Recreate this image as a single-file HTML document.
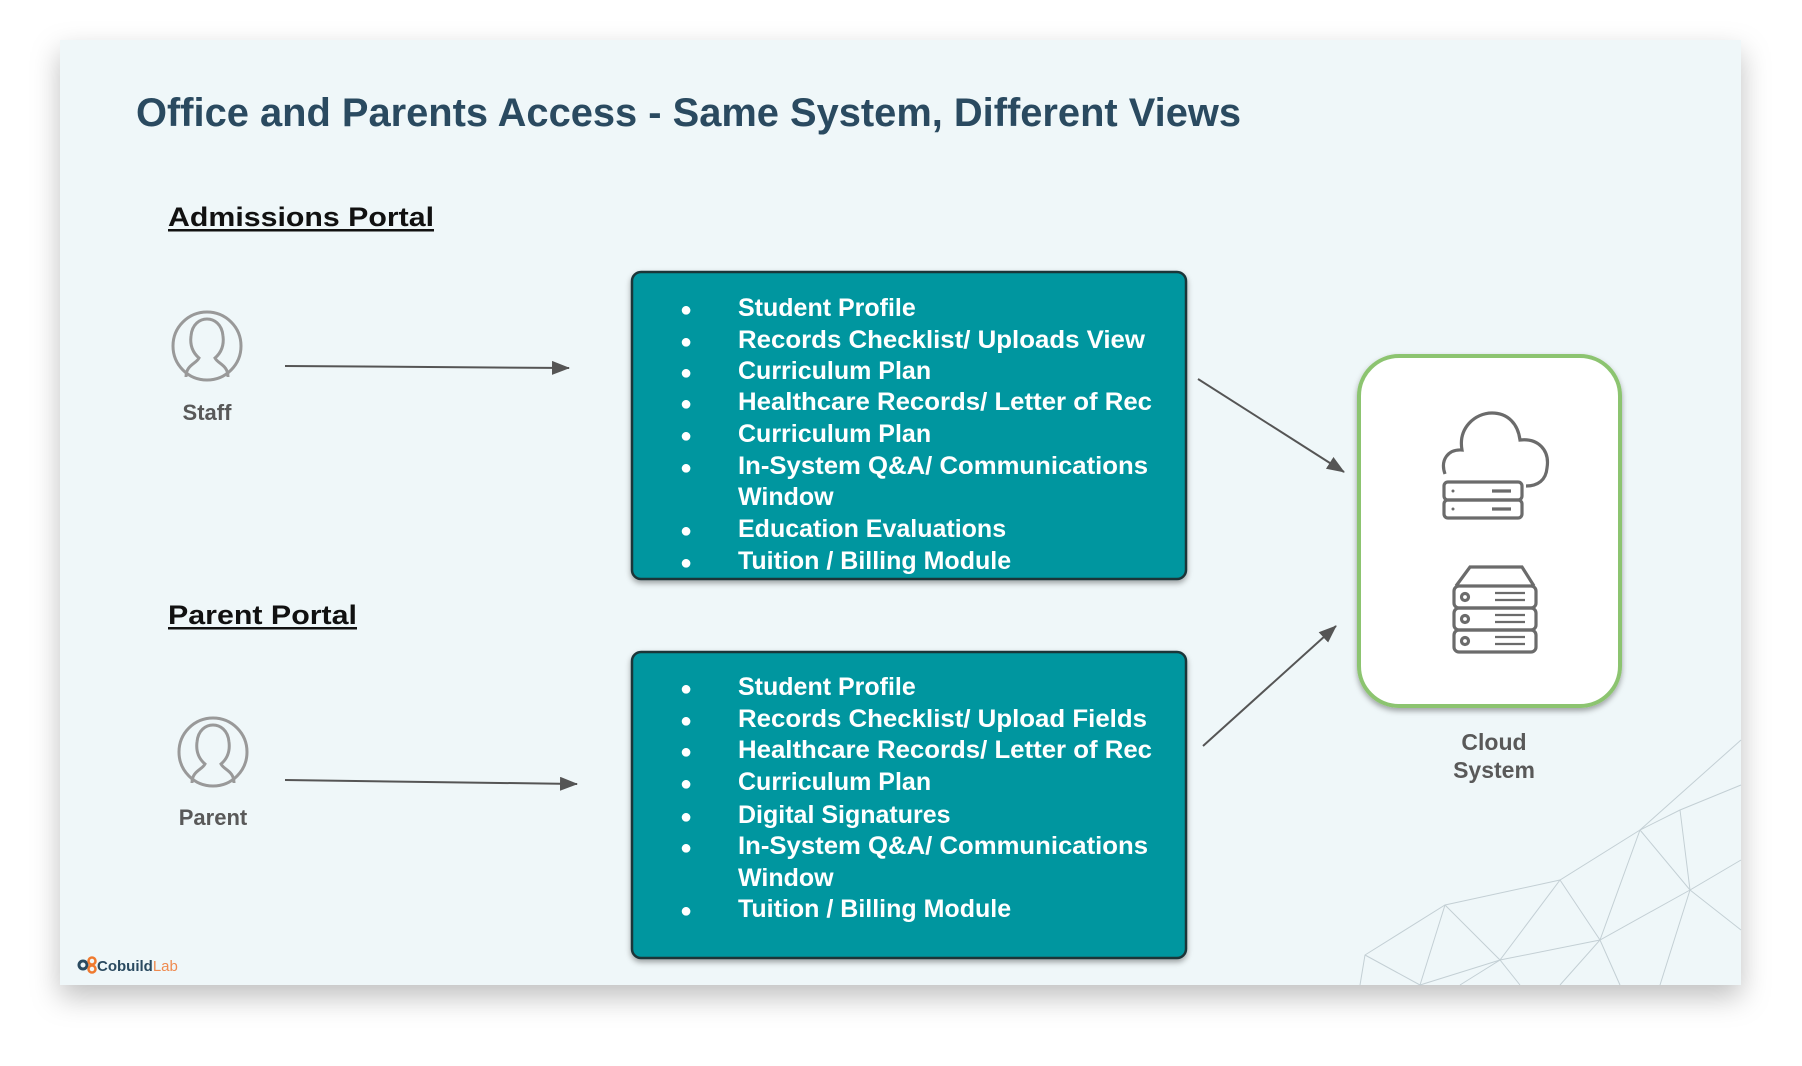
<!DOCTYPE html>
<html><head><meta charset="utf-8"><style>
html,body{margin:0;padding:0;background:#fff;width:1802px;height:1066px;overflow:hidden}
svg{display:block}
</style></head><body>
<svg width="1802" height="1066" xmlns="http://www.w3.org/2000/svg" font-family="Liberation Sans, sans-serif">
<defs>
<filter id="sh" x="-10%" y="-10%" width="120%" height="130%"><feDropShadow dx="0" dy="12" stdDeviation="14" flood-color="#000" flood-opacity="0.25"/></filter>
<filter id="sh2" x="-10%" y="-10%" width="120%" height="120%"><feDropShadow dx="0" dy="3" stdDeviation="3" flood-color="#000" flood-opacity="0.35"/></filter>
<marker id="ar" markerWidth="10" markerHeight="10" refX="9" refY="5" orient="auto" markerUnits="userSpaceOnUse"><path d="M0,0 L10,5 L0,10 Z" fill="#555"/></marker>
<marker id="ar2" markerWidth="18" markerHeight="14" refX="17" refY="7" orient="auto" markerUnits="userSpaceOnUse"><path d="M0,0 L18,7 L0,14 Z" fill="#555"/></marker>
</defs>
<rect x="60" y="40" width="1681" height="945" fill="#eff7f9" filter="url(#sh)"/>
<!-- mesh -->
<g stroke="#b9c6cc" stroke-width="1" fill="none" opacity="0.8">
<path d="M1741,740 L1640,830 L1560,880 L1445,905 L1365,955 L1360,985"/>
<path d="M1741,785 L1680,810 L1640,830 L1600,940 L1560,985"/>
<path d="M1680,810 L1690,890 L1660,985 M1560,880 L1600,940 L1620,985"/>
<path d="M1445,905 L1500,960 L1520,985 M1560,880 L1500,960 L1460,985"/>
<path d="M1445,905 L1420,985 M1365,955 L1420,985 M1690,890 L1741,930 M1640,830 L1690,890"/>
<path d="M1741,860 L1690,890 L1600,940 L1500,960 L1420,985"/>
</g>
<text x="136" y="126" font-size="40" font-weight="bold" fill="#2a4a60" textLength="1105" lengthAdjust="spacingAndGlyphs">Office and Parents Access - Same System, Different Views</text>
<text x="168" y="226" font-size="27" font-weight="bold" fill="#111" textLength="266" lengthAdjust="spacingAndGlyphs">Admissions Portal</text>
<rect x="168" y="229" width="266" height="2.5" fill="#111"/>
<text x="168" y="624" font-size="27" font-weight="bold" fill="#111" textLength="189" lengthAdjust="spacingAndGlyphs">Parent Portal</text>
<rect x="168" y="627" width="189" height="2.5" fill="#111"/>
<!-- person icons -->
<g fill="none" stroke="#999" stroke-width="3">
<circle cx="207" cy="346" r="34"/>
<path d="M186,377 C186,365 196,364 199,358 C192,352 190,344 191,336 C192,324 200,319 207,319 C214,319 222,324 223,336 C224,344 222,352 215,358 C218,364 228,365 228,377"/>
<circle cx="213" cy="752" r="34"/>
<path d="M192,783 C192,771 202,770 205,764 C198,758 196,750 197,742 C198,730 206,725 213,725 C220,725 228,730 229,742 C230,750 228,758 221,764 C224,770 234,771 234,783"/>
</g>
<text x="207" y="420" font-size="22" font-weight="bold" fill="#595959" text-anchor="middle">Staff</text>
<text x="213" y="825" font-size="22" font-weight="bold" fill="#595959" text-anchor="middle">Parent</text>
<!-- arrows -->
<g stroke="#555" stroke-width="2">
<line x1="285" y1="366" x2="569" y2="368" marker-end="url(#ar2)"/>
<line x1="285" y1="780" x2="577" y2="784" marker-end="url(#ar2)"/>
<line x1="1198" y1="379" x2="1344" y2="472" marker-end="url(#ar2)"/>
<line x1="1203" y1="746" x2="1336" y2="626" marker-end="url(#ar2)"/>
</g>
<!-- boxes -->
<rect x="632" y="272" width="554" height="307" rx="9" fill="#04969f" stroke="#1b3439" stroke-width="2.5" filter="url(#sh2)"/>
<rect x="632" y="652" width="554" height="306" rx="9" fill="#04969f" stroke="#1b3439" stroke-width="2.5" filter="url(#sh2)"/>
<g font-size="25" font-weight="bold" fill="#fff">
<g font-size="20"><text x="680" y="316">●</text><text x="680" y="348">●</text><text x="680" y="379">●</text><text x="680" y="410">●</text><text x="680" y="442">●</text><text x="680" y="474">●</text><text x="680" y="537">●</text><text x="680" y="569">●</text>
<text x="680" y="695">●</text><text x="680" y="727">●</text><text x="680" y="758">●</text><text x="680" y="790">●</text><text x="680" y="823">●</text><text x="680" y="854">●</text><text x="680" y="917">●</text></g>
<text x="738" y="316">Student Profile</text>
<text x="738" y="348" textLength="407" lengthAdjust="spacingAndGlyphs">Records Checklist/ Uploads View</text>
<text x="738" y="379">Curriculum Plan</text>
<text x="738" y="410" textLength="414" lengthAdjust="spacingAndGlyphs">Healthcare Records/ Letter of Rec</text>
<text x="738" y="442">Curriculum Plan</text>
<text x="738" y="474" textLength="410" lengthAdjust="spacingAndGlyphs">In-System Q&amp;A/ Communications</text>
<text x="738" y="505">Window</text>
<text x="738" y="537">Education Evaluations</text>
<text x="738" y="569">Tuition / Billing Module</text>
<text x="738" y="695">Student Profile</text>
<text x="738" y="727" textLength="409" lengthAdjust="spacingAndGlyphs">Records Checklist/ Upload Fields</text>
<text x="738" y="758" textLength="414" lengthAdjust="spacingAndGlyphs">Healthcare Records/ Letter of Rec</text>
<text x="738" y="790">Curriculum Plan</text>
<text x="738" y="823">Digital Signatures</text>
<text x="738" y="854" textLength="410" lengthAdjust="spacingAndGlyphs">In-System Q&amp;A/ Communications</text>
<text x="738" y="886">Window</text>
<text x="738" y="917">Tuition / Billing Module</text>
</g>
<!-- cloud system -->
<rect x="1359" y="356" width="261" height="350" rx="40" fill="#fff" stroke="#8cc46f" stroke-width="4" filter="url(#sh2)"/>
<g fill="none" stroke="#6b6b6b" stroke-width="3.2">
<path d="M1445,474 C1440,460 1448,449 1462,450 C1458,428 1475,413 1492,413 C1508,413 1518,424 1520,440 C1538,438 1550,450 1547,468 C1546,480 1538,486 1526,486"/>
<rect x="1444" y="482" width="78" height="18" rx="4"/>
<rect x="1444" y="500" width="78" height="18" rx="4"/>
<line x1="1492" y1="491" x2="1511" y2="491"/><line x1="1492" y1="509" x2="1511" y2="509"/>
<path d="M1456,586 L1470,567 L1522,567 L1534,586"/>
<rect x="1454" y="586" width="82" height="22" rx="5"/>
<rect x="1454" y="608" width="82" height="22" rx="5"/>
<rect x="1454" y="630" width="82" height="22" rx="5"/>
<circle cx="1465" cy="597" r="3.5"/><circle cx="1465" cy="619" r="3.5"/><circle cx="1465" cy="641" r="3.5"/>
<g stroke-width="2.2"><line x1="1495" y1="593" x2="1525" y2="593"/><line x1="1495" y1="600" x2="1525" y2="600"/><line x1="1495" y1="615" x2="1525" y2="615"/><line x1="1495" y1="622" x2="1525" y2="622"/><line x1="1495" y1="637" x2="1525" y2="637"/><line x1="1495" y1="644" x2="1525" y2="644"/></g>
</g>
<circle cx="1453" cy="491" r="1.5" fill="#6b6b6b"/><circle cx="1453" cy="509" r="1.5" fill="#6b6b6b"/>
<text x="1494" y="750" font-size="23" font-weight="bold" fill="#595959" text-anchor="middle">Cloud</text>
<text x="1494" y="778" font-size="23" font-weight="bold" fill="#595959" text-anchor="middle">System</text>
<!-- logo -->
<circle cx="83" cy="965" r="4" fill="none" stroke="#2a4a60" stroke-width="3"/>
<circle cx="92" cy="961" r="3.5" fill="none" stroke="#ef7a2f" stroke-width="2.5"/>
<circle cx="92" cy="969" r="3.5" fill="none" stroke="#ef7a2f" stroke-width="2.5"/>
<text x="97" y="971" font-size="15" font-weight="bold" fill="#2a4a60">Cobuild<tspan fill="#ef8a4f" font-weight="normal">Lab</tspan></text>
</svg>
</body></html>
